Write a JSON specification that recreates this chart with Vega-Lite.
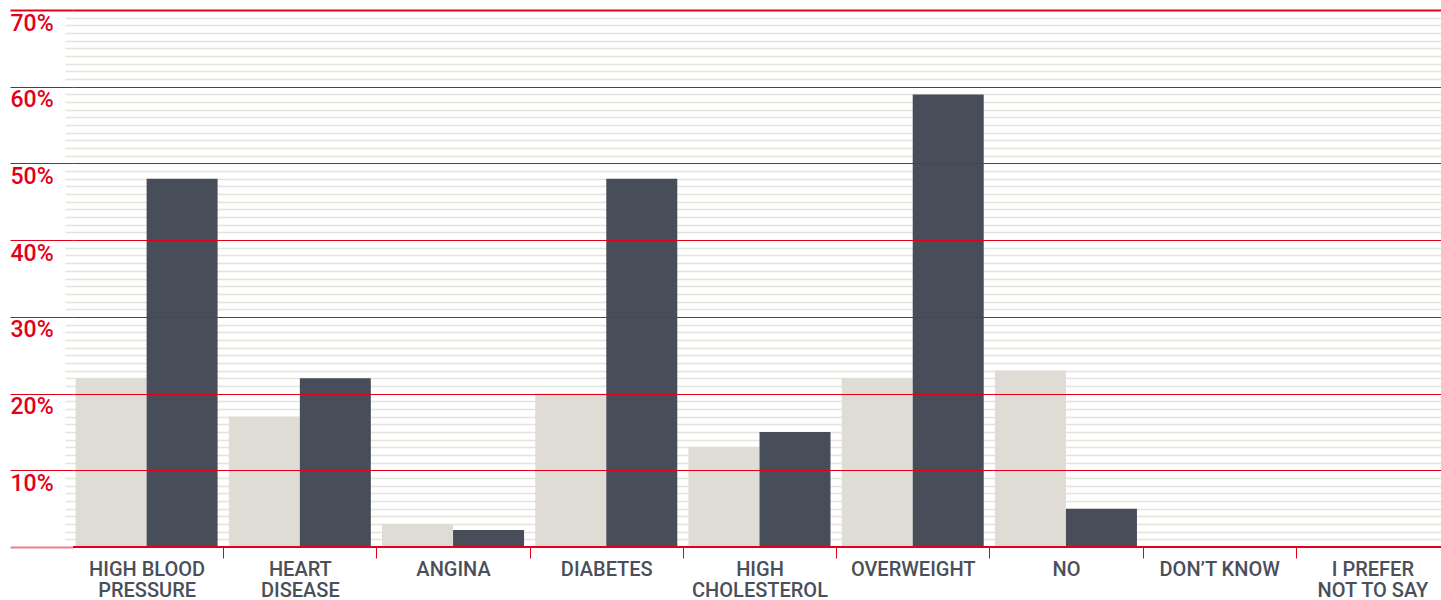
{
  "$schema": "https://vega.github.io/schema/vega-lite/v6.json",
  "width": 1368,
  "height": 537,
  "autosize": {"type": "none"},
  "padding": {"left": 73, "top": 10, "right": 0, "bottom": 53},
  "background": "white",
  "config": {
    "view": {"stroke": null},
    "font": "Roboto, sans-serif"
  },
  "data": {
    "values": [
      {"condition": "HIGH BLOOD PRESSURE", "series": "first", "share": 22},
      {"condition": "HIGH BLOOD PRESSURE", "series": "second", "share": 48},
      {"condition": "HEART DISEASE", "series": "first", "share": 17},
      {"condition": "HEART DISEASE", "series": "second", "share": 22},
      {"condition": "ANGINA", "series": "first", "share": 3},
      {"condition": "ANGINA", "series": "second", "share": 2.2},
      {"condition": "DIABETES", "series": "first", "share": 20},
      {"condition": "DIABETES", "series": "second", "share": 48},
      {"condition": "HIGH CHOLESTEROL", "series": "first", "share": 13},
      {"condition": "HIGH CHOLESTEROL", "series": "second", "share": 15},
      {"condition": "OVERWEIGHT", "series": "first", "share": 22},
      {"condition": "OVERWEIGHT", "series": "second", "share": 59},
      {"condition": "NO", "series": "first", "share": 23},
      {"condition": "NO", "series": "second", "share": 5},
      {"condition": "DON’T KNOW", "series": "first", "share": 0},
      {"condition": "DON’T KNOW", "series": "second", "share": 0},
      {"condition": "I PREFER NOT TO SAY", "series": "first", "share": 0},
      {"condition": "I PREFER NOT TO SAY", "series": "second", "share": 0}
    ]
  },
  "layer": [
    {
      "mark": {"type": "bar"},
      "encoding": {
        "x": {
          "field": "condition",
          "type": "nominal",
          "sort": null,
          "scale": {"range": [-3, 1376], "paddingInner": 0, "paddingOuter": 0},
          "axis": {
            "title": null,
            "orient": "bottom",
            "domain": false,
            "grid": false,
            "tickBand": "extent",
            "tickColor": "#e3001b",
            "tickSize": 11,
            "tickWidth": 1,
            "tickOpacity": {"condition": {"test": "datum.index < 0", "value": 0}, "value": 1},
            "labelExpr": "datum.value == 'HIGH BLOOD PRESSURE' ? ['HIGH BLOOD', 'PRESSURE'] : datum.value == 'HEART DISEASE' ? ['HEART', 'DISEASE'] : datum.value == 'HIGH CHOLESTEROL' ? ['HIGH', 'CHOLESTEROL'] : datum.value == 'I PREFER NOT TO SAY' ? ['I PREFER', 'NOT TO SAY'] : datum.label",
            "labelFontSize": 20,
            "labelFontWeight": 500,
            "labelColor": "#4a4f5a",
            "labelPadding": 1,
            "labelBaseline": "top",
            "labelLineHeight": 21,
            "labelAngle": 0,
            "labelLimit": 0,
            "labelOverlap": false,
            "zindex": 1
          }
        },
        "xOffset": {
          "field": "series",
          "type": "nominal",
          "sort": ["first", "second"],
          "scale": {"paddingInner": 0, "paddingOuter": 0.079}
        },
        "y": {
          "field": "share",
          "type": "quantitative",
          "scale": {"domain": [0, 70], "nice": false, "zero": true},
          "axis": {
            "orient": "right",
            "title": null,
            "labels": false,
            "ticks": false,
            "domain": false,
            "tickCount": 70,
            "grid": true,
            "gridColor": "#e4e3dc",
            "gridWidth": 1.5,
            "gridOpacity": {"condition": {"test": "datum.value % 10 === 0", "value": 0}, "value": 1},
            "zindex": 0
          }
        },
        "color": {
          "field": "series",
          "type": "nominal",
          "scale": {"domain": ["first", "second"], "range": ["#dedcd5", "#474d59"]},
          "legend": null
        }
      }
    },
    {
      "mark": {"type": "rule", "color": "#e3001b", "strokeWidth": 2, "opacity": 0.5},
      "encoding": {
        "y": {
          "datum": 0,
          "type": "quantitative",
          "axis": {
            "orient": "left",
            "title": null,
            "values": [0, 10, 20, 30, 40, 50, 60, 70],
            "domain": false,
            "grid": true,
            "gridColor": "#e3001b",
            "gridWidth": {"condition": {"test": "datum.value === 70", "value": 2}, "value": 1},
            "gridOpacity": {"condition": {"test": "datum.value === 0", "value": 0}, "value": 1},
            "ticks": true,
            "tickSize": 63,
            "tickColor": "#e3001b",
            "tickWidth": {"condition": {"test": "datum.value === 0 || datum.value === 70", "value": 2}, "value": 1},
            "tickOpacity": {"condition": {"test": "datum.value === 0", "value": 0.5}, "value": 1},
            "labelExpr": "datum.value === 0 ? '' : datum.value + '%'",
            "labelAlign": "left",
            "labelBaseline": "top",
            "labelPadding": 0,
            "labelOffset": 2,
            "labelFontSize": 23,
            "labelFontWeight": 500,
            "labelColor": "#e3001b",
            "labelOverlap": false,
            "zindex": 1
          }
        }
      }
    }
  ],
  "resolve": {"axis": {"y": "independent"}}
}
